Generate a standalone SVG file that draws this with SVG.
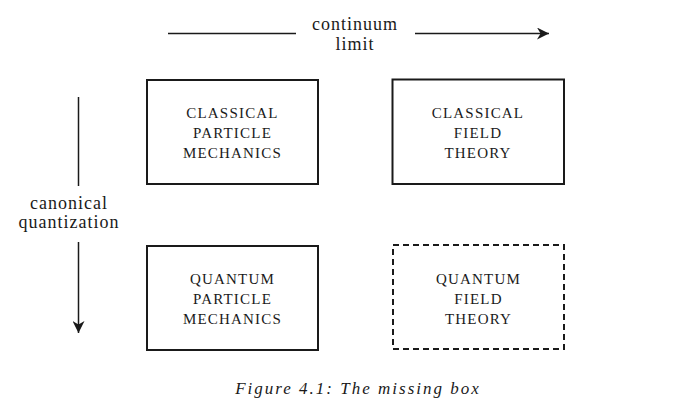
<svg xmlns="http://www.w3.org/2000/svg" width="694" height="418" viewBox="0 0 694 418">
<style>
.box{fill:#fff;stroke:#1a1a1a;stroke-width:2}
.dash{stroke-dasharray:6,4}
.bt{font-family:"Liberation Serif","DejaVu Serif",serif;font-size:15px;fill:#1a1a1a;text-anchor:middle;letter-spacing:1.2px}
.lb{font-family:"Liberation Serif","DejaVu Serif",serif;font-size:18px;fill:#1a1a1a;text-anchor:middle;letter-spacing:1px}
.cap{font-family:"Liberation Serif","DejaVu Serif",serif;font-size:17px;font-style:italic;fill:#1a1a1a;text-anchor:middle;letter-spacing:2px}
.ln{stroke:#1a1a1a;stroke-width:1.5;fill:none}
</style>
<defs>
<marker id="ah2" viewBox="0 0 10 10" refX="10" refY="5" markerWidth="18" markerHeight="12" markerUnits="userSpaceOnUse" orient="auto">
<path d="M0,0 L10,5 L0,10 L3,5 z" fill="#1a1a1a"/>
</marker>
</defs>
<rect width="694" height="418" fill="#fff"/>
<g id="connectors">
<line class="ln" x1="168" y1="33.5" x2="296" y2="33.5"/>
<line class="ln" x1="415" y1="33.5" x2="549" y2="33.5" marker-end="url(#ah2)"/>
<line class="ln" x1="78.5" y1="97" x2="78.5" y2="186"/>
<line class="ln" x1="78.5" y1="242" x2="78.5" y2="333" marker-end="url(#ah2)"/>
<text class="lb" x="355" y="30">continuum</text>
<text class="lb" x="355" y="50">limit</text>
<text class="lb" x="69" y="209">canonical</text>
<text class="lb" x="69" y="228">quantization</text>
</g>
<g id="classical-particle">
<rect class="box" x="147" y="80" width="171" height="104"/>
<text class="bt" x="232.5" y="118">CLASSICAL</text>
<text class="bt" x="232.5" y="138">PARTICLE</text>
<text class="bt" x="232.5" y="158">MECHANICS</text>
</g>
<g id="classical-field">
<rect class="box" x="392.5" y="79.5" width="171.5" height="104.5"/>
<text class="bt" x="478" y="118">CLASSICAL</text>
<text class="bt" x="478" y="138">FIELD</text>
<text class="bt" x="478" y="158">THEORY</text>
</g>
<g id="quantum-particle">
<rect class="box" x="147" y="246" width="171" height="104"/>
<text class="bt" x="232.5" y="284">QUANTUM</text>
<text class="bt" x="232.5" y="304">PARTICLE</text>
<text class="bt" x="232.5" y="324">MECHANICS</text>
</g>
<g id="quantum-field">
<rect class="box dash" x="393" y="245" width="171" height="104"/>
<text class="bt" x="478.5" y="284">QUANTUM</text>
<text class="bt" x="478.5" y="304">FIELD</text>
<text class="bt" x="478.5" y="324">THEORY</text>
</g>
<text class="cap" x="358" y="394">Figure 4.1: The missing box</text>
</svg>
